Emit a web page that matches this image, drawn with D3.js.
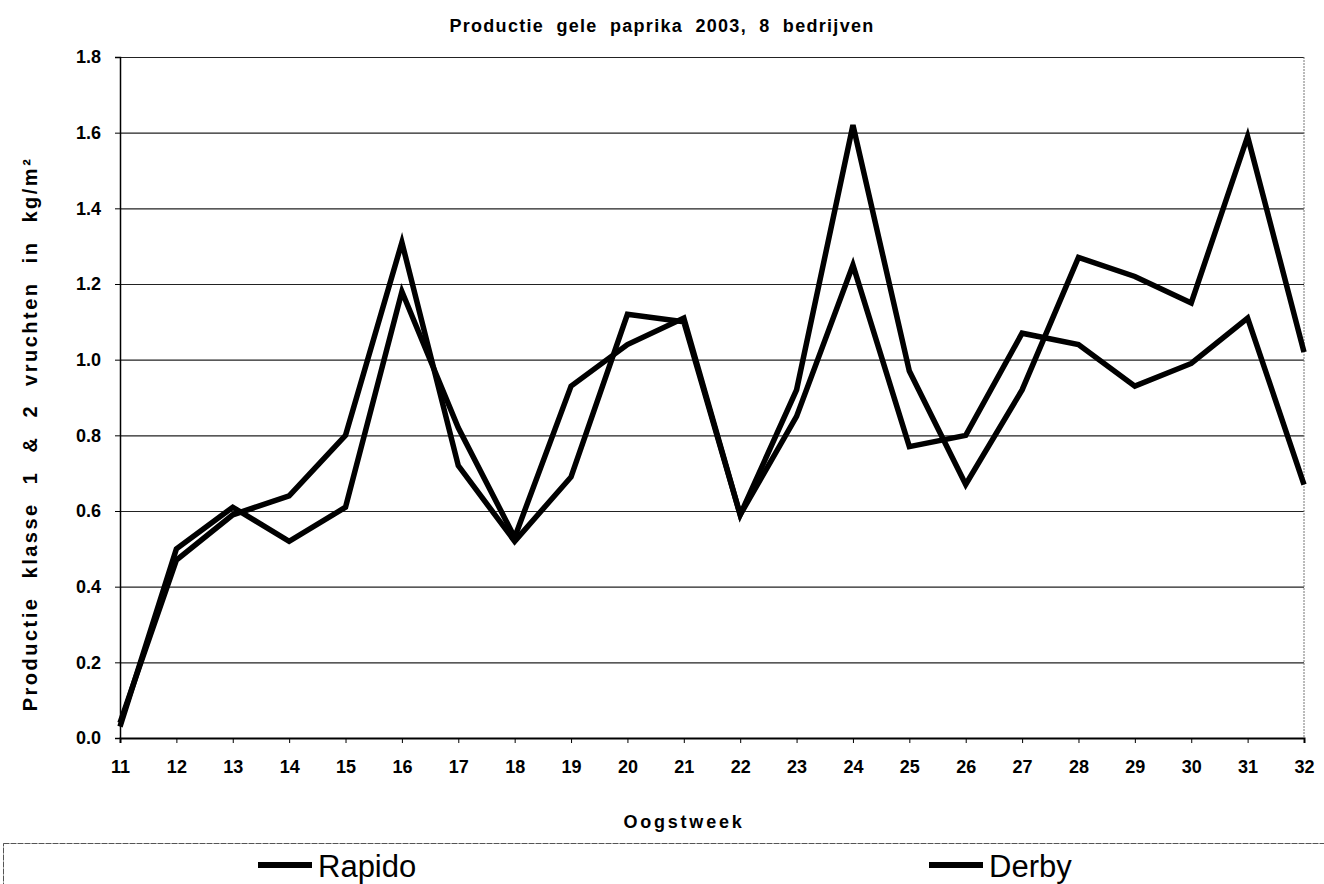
<!DOCTYPE html>
<html>
<head>
<meta charset="utf-8">
<script src="https://cdn.jsdelivr.net/npm/d3@7"></script>
<style>
  body { margin: 0; background: #fff; }
  svg { display: block; font-family: 'Liberation Sans', Arial, sans-serif; }
</style>
</head>
<body>
<svg width="1324" height="884"></svg>
<script>
const weeks = [11, 12, 13, 14, 15, 16, 17, 18, 19, 20, 21, 22, 23, 24, 25, 26, 27, 28, 29, 30, 31, 32]
const rapido = [0.04, 0.47, 0.59, 0.64, 0.80, 1.31, 0.72, 0.52, 0.69, 1.12, 1.10, 0.59, 0.85, 1.25, 0.77, 0.80, 1.07, 1.04, 0.93, 0.99, 1.11, 0.67]
const derby = [0.03, 0.50, 0.61, 0.52, 0.61, 1.18, 0.82, 0.53, 0.93, 1.04, 1.11, 0.59, 0.92, 1.62, 0.97, 0.67, 0.92, 1.27, 1.22, 1.15, 1.59, 1.02]
const yTicks = [0, 0.2, 0.4, 0.6, 0.8, 1.0, 1.2, 1.4, 1.6, 1.8]
const seriesNames = ['Rapido', 'Derby']

const width = 1324
const height = 884
const margin = { top: 57, right: 20, bottom: 146, left: 120 }

const svg = d3.select('svg')

const xScale = d3.scaleLinear()
  .domain([11, 32])
  .range([margin.left, width - margin.right])

const yScale = d3.scaleLinear()
  .domain([0, 1.8])
  .range([height - margin.bottom, margin.top])

// horizontal grid lines
const grid = d3.axisLeft(yScale)
  .tickValues(yTicks)
  .tickSize(-(width - margin.left - margin.right))
  .tickFormat('')

svg.append('g')
  .attr('transform', `translate(${margin.left},0)`)
  .call(grid)
  .call(g => g.select('.domain').remove())
  .call(g => g.selectAll('line').attr('stroke', '#222').attr('stroke-width', 1.2))

// right border (dotted)
svg.append('line')
  .attr('x1', xScale(32)).attr('x2', xScale(32))
  .attr('y1', yScale(1.8)).attr('y2', yScale(0))
  .attr('stroke', '#777')
  .attr('stroke-dasharray', '2,1')

// y axis
const yAxis = d3.axisLeft(yScale)
  .tickValues(yTicks)
  .tickSize(5)
  .tickPadding(14)
  .tickFormat(d3.format('.1f'))

svg.append('g')
  .attr('transform', `translate(${margin.left},0)`)
  .call(yAxis)
  .call(g => g.select('.domain').attr('stroke', '#000').attr('stroke-width', 1.5))
  .call(g => g.selectAll('text').attr('font-size', 18).attr('font-weight', 'bold').attr('fill', '#000'))

// x axis
const xAxis = d3.axisBottom(xScale)
  .tickValues(weeks)
  .tickSize(5)
  .tickPadding(17)
  .tickFormat(d3.format('d'))

svg.append('g')
  .attr('transform', `translate(0,${yScale(0)})`)
  .call(xAxis)
  .call(g => g.select('.domain').attr('stroke', '#000').attr('stroke-width', 2))
  .call(g => g.selectAll('text').attr('font-size', 18).attr('font-weight', 'bold').attr('fill', '#000'))

// lines
const line = d3.line()
  .x((d, i) => xScale(weeks[i]))
  .y(d => yScale(d))

;[rapido, derby].forEach(values => {
  svg.append('path')
    .datum(values)
    .attr('fill', 'none')
    .attr('stroke', '#000')
    .attr('stroke-width', 5.5)
    .attr('stroke-linejoin', 'miter')
    .attr('d', line)
})

// titles
svg.append('text')
  .attr('x', 662)
  .attr('y', 32)
  .attr('text-anchor', 'middle')
  .attr('font-size', 18)
  .attr('font-weight', 'bold')
  .attr('letter-spacing', 1.3)
  .attr('word-spacing', 6)
  .text('Productie gele paprika 2003, 8 bedrijven')

svg.append('text')
  .attr('x', 684)
  .attr('y', 828)
  .attr('text-anchor', 'middle')
  .attr('font-size', 18)
  .attr('font-weight', 'bold')
  .attr('letter-spacing', 2.8)
  .text('Oogstweek')

svg.append('text')
  .attr('transform', 'translate(37,434) rotate(-90)')
  .attr('text-anchor', 'middle')
  .attr('font-size', 20)
  .attr('font-weight', 'bold')
  .attr('letter-spacing', 2.5)
  .attr('word-spacing', 10)
  .text('Productie klasse 1 & 2 vruchten in kg/m²')

// legend
svg.append('rect')
  .attr('x', 3.5)
  .attr('y', 843.5)
  .attr('width', width)
  .attr('height', 60)
  .attr('fill', 'none')
  .attr('stroke', '#555')
  .attr('stroke-dasharray', '6,1')

const legendX = [258, 929]
seriesNames.forEach((name, i) => {
  svg.append('line')
    .attr('x1', legendX[i]).attr('x2', legendX[i] + 54)
    .attr('y1', 865).attr('y2', 865)
    .attr('stroke', '#000')
    .attr('stroke-width', 6)
  svg.append('text')
    .attr('x', legendX[i] + 60)
    .attr('y', 877)
    .attr('font-size', 31)
    .text(name)
})
</script>
</body>
</html>
